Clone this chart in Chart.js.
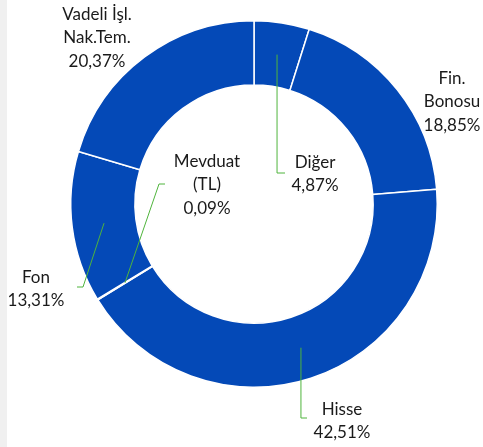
<!DOCTYPE html>
<html>
<head>
<meta charset="utf-8">
<script src="https://cdn.jsdelivr.net/npm/chart.js@4"></script>
<style>
    html, body { margin: 0; padding: 0; background: #fff; }
    body { width: 483px; height: 447px; overflow: hidden; position: relative; }
    .strip { position: absolute; left: 0; top: 0; width: 7px; height: 447px; background: #f0f0f0; }
    #wrap { position: absolute; left: 0; top: 0; width: 483px; height: 447px; }
</style>
</head>
<body>
<div class="strip"></div>
<div id="wrap"><canvas id="pieChart"></canvas></div>
<script>
// dağılım verileri (saat yönünde, tepeden başlayarak)
const categories = [['Diğer'], ['Fin.', 'Bonosu'], ['Hisse'], ['Mevduat', '(TL)'], ['Fon'], ['Vadeli İşl.', 'Nak.Tem.']];
const shares = [4.87, 18.85, 42.51, 0.09, 13.31, 20.37];

// etiket yerleşimi: merkeze göre metin bloğu merkezi, kılavuz çizgisi olup olmadığı
const labelStyle = [
    { dx: 61, dy: -30, leader: 'vh', lineEnd: [31, -31] },
    { dx: 198, dy: -102, leader: null },
    { dx: 88, dy: 217, leader: 'vh', lineEnd: [53, 214] },
    { dx: -47, dy: -19, leader: 'dh', lineEnd: [-89, -20] },
    { dx: -218, dy: 85, leader: 'dh', lineEnd: [-177, 83] },
    { dx: -157, dy: -166, leader: null }
];

const fmt = v => v.toFixed(2).replace('.', ',') + '%';

const labelPlugin = {
    id: 'outLabels',
    afterDatasetsDraw(chart) {
        const ctx = chart.ctx;
        const meta = chart.getDatasetMeta(0);
        const arc0 = meta.data[0];
        const cx = arc0.x, cy = arc0.y;
        ctx.save();
        meta.data.forEach((arc, i) => {
            const st = labelStyle[i];
            if (st.leader) {
                const p = arc.getCenterPoint();
                const ex = cx + st.lineEnd[0], ey = cy + st.lineEnd[1];
                ctx.strokeStyle = '#4fb43c';
                ctx.lineWidth = 1;
                ctx.beginPath();
                ctx.moveTo(p.x, p.y);
                if (st.leader === 'vh') {
                    ctx.lineTo(p.x, ey);
                    ctx.lineTo(ex, ey);
                } else {
                    const bend = ex + (ex > p.x ? -6 : 6);
                    ctx.lineTo(bend, ey);
                    ctx.lineTo(ex, ey);
                }
                ctx.stroke();
            }
            const lines = categories[i].concat([fmt(shares[i])]);
            const lh = 23.5;
            const x = cx + st.dx;
            let y = cy + st.dy - (lines.length - 1) * lh / 2;
            ctx.fillStyle = '#1a1a1a';
            ctx.font = '17px Lato';
            ctx.textAlign = 'center';
            ctx.textBaseline = 'middle';
            lines.forEach(t => {
                ctx.fillText(t, x, y);
                y += lh;
            });
        });
        ctx.restore();
    }
};

new Chart(document.getElementById('pieChart'), {
    type: 'doughnut',
    data: {
        labels: categories.map(c => c.join(' ')),
        datasets: [{
            data: shares,
            backgroundColor: '#0449b7',
            borderColor: '#ffffff',
            borderWidth: 1.5
        }]
    },
    options: {
        responsive: true,
        maintainAspectRatio: false,
        animation: false,
        cutout: '65%',
        layout: {
            padding: { left: 70, right: 45, top: 20, bottom: 59 }
        },
        plugins: {
            legend: { display: false },
            tooltip: { enabled: false }
        }
    },
    plugins: [labelPlugin]
});
</script>
</body>
</html>
